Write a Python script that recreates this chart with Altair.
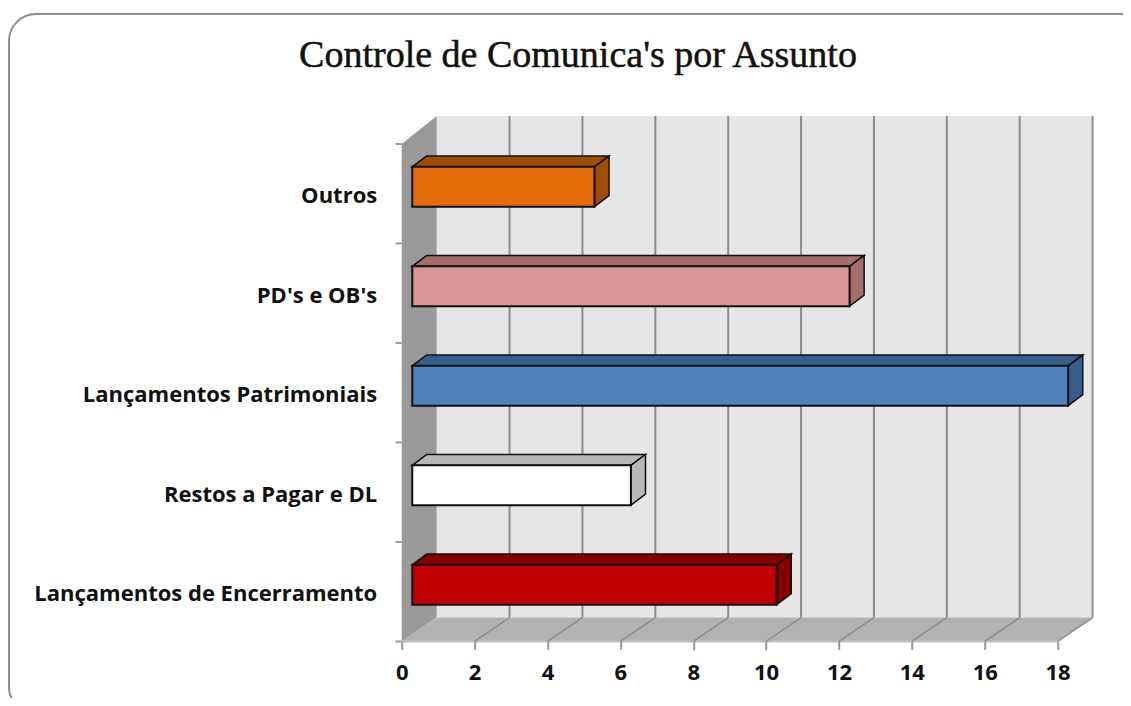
import altair as alt
import pandas as pd

# Data, bottom to top
categorias = ["Lançamentos de Encerramento", "Restos a Pagar e DL", "Lançamentos Patrimoniais", "PD's e OB's", "Outros"]
valores = [10, 6, 18, 12, 5]
cor_frente = ["#C00000", "#FFFFFF", "#4F81BD", "#D99694", "#E46C0A"]
cor_lado = ["#860000", "#B8B8B8", "#385D8A", "#A56D6C", "#A04C07"]
x_ticks = list(range(0, 20, 2))
titulo = ["Controle de Comunica's por Assunto"]

# Pseudo-3D geometry, in data units
WALL_DX, WALL_DY = 0.96, 0.24
BAR_X0, BAR_DX, BAR_DY = 0.29, 0.40, 0.11
BAR_LOW, BAR_HIGH = 0.37, 0.77
XMAX, YMAX = 18.98, 5.281
N = len(categorias)

PX_X, PX_Y = 36.44, 99.5
W, H = XMAX * PX_X, YMAX * PX_Y
LEFT, TOP = 393.7, 108

label_expr = "[" + ",".join('"' + c.replace('"', '\\"') + '"' for c in categorias) + "][floor(datum.value)]"
x_axis = alt.Axis(
    values=x_ticks, title=None, grid=False, format="d", domain=False,
    tickColor="#999999", tickWidth=2, tickSize=8, labelFont="Open Sans", labelFontWeight="bold",
    labelFontSize=22, labelColor="#111111", labelPadding=13, labelFlush=False, labelOverlap=False,
    zindex=1)
y_axis = alt.Axis(
    values=[i + 0.5 for i in range(N)], labelExpr=label_expr, title=None, grid=False,
    domain=False, ticks=False, labelFont="Open Sans", labelFontWeight="bold", labelFontSize=22,
    labelColor="#111111", labelPadding=25, labelAlign="right", labelBaseline="middle", labelLimit=0,
    labelOverlap=False, labelOffset=2, zindex=1)

xs = alt.Scale(domain=[0, XMAX], nice=False, zero=False)
ys = alt.Scale(domain=[0, YMAX], nice=False, zero=False)
X = lambda f: alt.X(f, type="quantitative", scale=xs, axis=x_axis)
Y = lambda f: alt.Y(f, type="quantitative", scale=ys, axis=y_axis)

frame = alt.Chart(pd.DataFrame({"a": [0]})).mark_rect(
    fill="white", stroke="#8e8e8e", strokeWidth=2, cornerRadius=27
).encode(x=alt.value(9 - 8 - LEFT), x2=alt.value(1150 - 8 - LEFT),
         y=alt.value(14 - 8 - TOP), y2=alt.value(714 - 8 - TOP))

title_mark = alt.Chart(pd.DataFrame({"t": titulo})).mark_text(
    font="Liberation Serif", fontSize=38, color="#111111", stroke="#111111", strokeWidth=0.5,
    align="center", baseline="alphabetic"
).encode(x=alt.value(578 - 8 - LEFT), y=alt.value(67 - 8 - TOP), text="t:N")

wall = alt.Chart(pd.DataFrame({"x": [WALL_DX], "x2": [18 + WALL_DX], "y": [WALL_DY], "y2": [YMAX]})).mark_rect(
    color="#E6E6E6").encode(x=X("x"), x2="x2", y=Y("y"), y2="y2")

grid_df = pd.DataFrame({"x": [t + WALL_DX for t in x_ticks[1:]], "y": WALL_DY, "y2": YMAX})
grid = alt.Chart(grid_df).mark_rule(color="#8C8C8C", strokeWidth=2).encode(x=X("x"), y=Y("y"), y2="y2")

left_wall = alt.Chart(pd.DataFrame({"x": [0, WALL_DX], "y": [0, WALL_DY], "y2": [5, YMAX]})).mark_area(
    color="#999999").encode(x=X("x"), y=Y("y"), y2="y2")

floor_df = pd.DataFrame({"y": [0, WALL_DY], "x": [0, WALL_DX], "x2": [18, 18 + WALL_DX]})
floor = alt.Chart(floor_df).mark_area(color="#B2B2B2", orient="horizontal").encode(
    y=Y("y"), x=X("x"), x2="x2")

floor_edge = alt.Chart(pd.DataFrame({"x": [0], "x2": [18], "y": [0]})).mark_rule(
    color="#BDBDBD", strokeWidth=2).encode(x=X("x"), x2="x2", y=Y("y"))

floor_lines_df = pd.DataFrame(
    [{"t": t, "x": t + d * WALL_DX, "y": d * WALL_DY} for t in x_ticks[1:] for d in (0, 1)])
floor_lines = alt.Chart(floor_lines_df).mark_line(color="#8C8C8C", strokeWidth=1.5).encode(
    x=X("x"), y=Y("y"), detail="t:N")

y_ticks_df = pd.DataFrame({"y": list(range(N + 1)), "x": -0.17, "x2": 0.0})
y_ticks = alt.Chart(y_ticks_df).mark_rule(color="#999999", strokeWidth=2).encode(
    x=X("x"), x2="x2", y=Y("y"))

# Bars
bars = pd.DataFrame({"c": categorias, "v": valores, "f": cor_frente, "s": cor_lado, "i": range(N)})
bars["x"] = BAR_X0
bars["xe"] = BAR_X0 + bars["v"]
bars["lo"] = bars["i"] + BAR_LOW
bars["hi"] = bars["i"] + BAR_HIGH

top_rows, side_rows = [], []
for _, b in bars.iterrows():
    for d in (0, 1):
        top_rows.append({"c": b.c, "s": b.s, "y": b.hi + d * BAR_DY,
                         "x": b.x + d * BAR_DX, "x2": b.xe + d * BAR_DX})
        side_rows.append({"c": b.c, "s": b.s, "x": b.xe + d * BAR_DX,
                          "y": b.lo + d * BAR_DY, "y2": b.hi + d * BAR_DY})

bar_top = alt.Chart(pd.DataFrame(top_rows)).mark_area(
    orient="horizontal", stroke="#111111", strokeWidth=1.5).encode(
    y=Y("y"), x=X("x"), x2="x2", fill=alt.Fill("s:N", scale=None), detail="c:N")
bar_side = alt.Chart(pd.DataFrame(side_rows)).mark_area(
    stroke="#111111", strokeWidth=1.5).encode(
    x=X("x"), y=Y("y"), y2="y2", fill=alt.Fill("s:N", scale=None), detail="c:N")
bar_front = alt.Chart(bars).mark_rect(stroke="#111111", strokeWidth=2).encode(
    x=X("x"), x2="xe", y=Y("lo"), y2="hi", fill=alt.Fill("f:N", scale=None))

chart = alt.layer(
    frame, title_mark, wall, grid, left_wall, floor, floor_edge, floor_lines, y_ticks, bar_top, bar_side, bar_front
).properties(
    width=W, height=H,
    autosize=alt.AutoSizeParams(type="none"),
    padding={"left": LEFT, "top": TOP, "right": 1115 - LEFT - W, "bottom": 690 - TOP - H},
    background="white",
).configure_view(stroke=None)

chart.save("out.html", embed_options={"renderer": "svg", "actions": False})
